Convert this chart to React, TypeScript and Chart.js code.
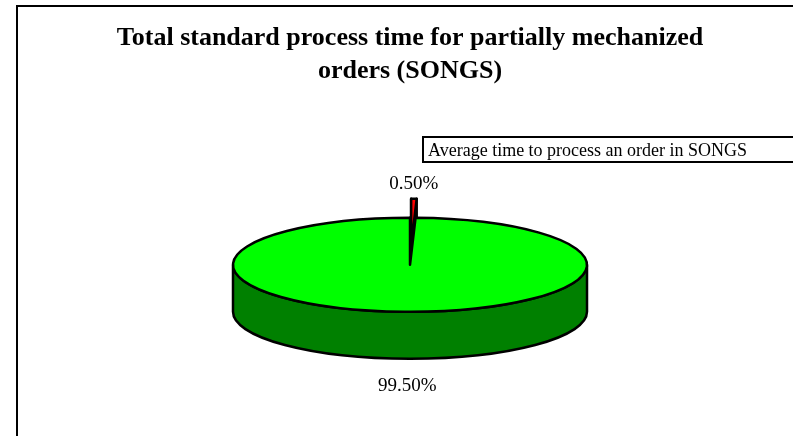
import { useEffect, useRef } from 'react';
import { Chart, registerables } from 'chart.js';

Chart.register(...registerables);

const TITLE_LINES = ['Total standard process time for partially mechanized', 'orders (SONGS)'];
const SERIES_NAME = 'Average time to process an order in SONGS';
const CATEGORIES = ['Slice 1', 'Slice 2'];
const VALUES = [0.5, 99.5];
const TOP_COLORS = ['#FF0000', '#00FF00'];
const SIDE_COLORS = ['#E00000', '#008000'];
const EXPLODE = [72, 0];

const FONT = 'Liberation Serif';
const TILT = 0.2655;
const DEPTH = 47;
const CANVAS_W = 787;
const CANVAS_H = 466;

const pie3d = {
  id: 'pie3d',
  beforeDatasetsDraw(chart: any) {
    const ctx: CanvasRenderingContext2D = chart.ctx;
    const meta = chart.getDatasetMeta(0);
    const total = VALUES.reduce((a, b) => a + b, 0);
    const arcs = meta.data.map((el: any, i: number) => {
      const p = el.getProps(['x', 'y', 'startAngle', 'endAngle', 'outerRadius'], true);
      const o = el.options;
      const mid = (p.startAngle + p.endAngle) / 2;
      const off = o.offset || 0;
      const cx = p.x + Math.cos(mid) * off;
      const cy = p.y + Math.sin(mid) * off * TILT;
      return {
        i, cx, cy, rx: p.outerRadius, ry: p.outerRadius * TILT,
        a1: p.startAngle, a2: p.endAngle, mid, o,
      };
    });
    arcs.sort((a: any, b: any) => Math.sin(a.mid) - Math.sin(b.mid));
    ctx.save();
    ctx.lineJoin = 'round';
    for (const a of arcs) {
      const bw = a.o.borderWidth || 2;
      const bc = a.o.borderColor || '#000';
      ctx.lineWidth = bw;
      ctx.strokeStyle = bc;
      const side = SIDE_COLORS[a.i];
      // radial walls
      for (const ang of [a.a1, a.a2]) {
        const ox = a.cx + a.rx * Math.cos(ang);
        const oy = a.cy + a.ry * Math.sin(ang);
        ctx.beginPath();
        ctx.moveTo(a.cx, a.cy);
        ctx.lineTo(ox, oy);
        ctx.lineTo(ox, oy + DEPTH);
        ctx.lineTo(a.cx, a.cy + DEPTH);
        ctx.closePath();
        ctx.fillStyle = side;
        ctx.fill();
        ctx.stroke();
      }
      // outer front wall
      for (let k = -1; k <= 1; k++) {
        const lo = Math.max(a.a1, 2 * Math.PI * k);
        const hi = Math.min(a.a2, Math.PI + 2 * Math.PI * k);
        if (hi > lo) {
          ctx.beginPath();
          ctx.ellipse(a.cx, a.cy, a.rx, a.ry, 0, lo, hi, false);
          ctx.lineTo(a.cx + a.rx * Math.cos(hi), a.cy + DEPTH + a.ry * Math.sin(hi));
          ctx.ellipse(a.cx, a.cy + DEPTH, a.rx, a.ry, 0, hi, lo, true);
          ctx.closePath();
          ctx.fillStyle = side;
          ctx.fill();
          ctx.stroke();
        }
      }
      // top face
      ctx.beginPath();
      ctx.moveTo(a.cx, a.cy);
      ctx.ellipse(a.cx, a.cy, a.rx, a.ry, 0, a.a1, a.a2, false);
      ctx.closePath();
      ctx.fillStyle = a.o.backgroundColor;
      ctx.fill();
      ctx.stroke();
    }
    // labels
    ctx.fillStyle = '#000';
    ctx.font = `19px "${FONT}"`;
    ctx.textAlign = 'center';
    ctx.textBaseline = 'middle';
    for (const a of arcs) {
      const px = a.cx + a.rx * Math.cos(a.mid);
      const py = a.cy + a.ry * Math.sin(a.mid);
      const below = Math.sin(a.mid) > 0;
      const ly = below ? py + DEPTH + 27 : py - 15;
      const txt = ((VALUES[a.i] / total) * 100).toFixed(2) + '%';
      ctx.fillText(txt, px, ly);
    }
    ctx.restore();
    return false;
  },
};

const legendBox = {
  id: 'legendBox',
  afterDraw(chart: any) {
    const ctx: CanvasRenderingContext2D = chart.ctx;
    ctx.save();
    ctx.lineWidth = 2;
    ctx.strokeStyle = '#000';
    ctx.fillStyle = '#fff';
    const x = 405, y = 130, w = 420, h = 25;
    ctx.fillRect(x, y, w, h);
    ctx.strokeRect(x, y, w, h);
    ctx.fillStyle = '#000';
    ctx.font = `18px "${FONT}"`;
    ctx.textAlign = 'left';
    ctx.textBaseline = 'alphabetic';
    ctx.fillText(chart.data.datasets[0].label, x + 5, y + 19);
    ctx.restore();
  },
};

export default function App() {
  const ref = useRef<HTMLCanvasElement>(null);
  useEffect(() => {
    if (!ref.current) return;
    const chart = new Chart(ref.current, {
      type: 'pie',
      data: {
        labels: CATEGORIES,
        datasets: [
          {
            label: SERIES_NAME,
            data: VALUES,
            backgroundColor: TOP_COLORS,
            borderColor: '#000',
            borderWidth: 2.5,
            offset: EXPLODE,
          },
        ],
      },
      options: {
        responsive: false,
        animation: false,
        devicePixelRatio: 1,
        events: [],
        radius: 177,
        layout: { padding: { left: 0, right: 3, top: 0, bottom: 38 } },
        plugins: {
          legend: { display: false },
          tooltip: { enabled: false },
          title: {
            display: true,
            text: TITLE_LINES,
            color: '#000',
            font: { family: FONT, size: 26, weight: 'bold', lineHeight: 1.3 },
            padding: { top: 14, bottom: 10 },
          },
        },
      } as any,
      plugins: [pie3d, legendBox],
    });
    return () => chart.destroy();
  }, []);
  return (
    <div style={{ position: 'fixed', left: 0, top: 0, width: 793, height: 436, overflow: 'hidden', background: '#fff' }}>
      <div
        style={{
          position: 'absolute', left: 16, top: 5, width: CANVAS_W + 4, height: CANVAS_H + 4,
          border: '2px solid #000', boxSizing: 'border-box', overflow: 'hidden',
        }}
      >
        <canvas ref={ref} width={CANVAS_W} height={CANVAS_H - 4} style={{ display: 'block' }} />
      </div>
    </div>
  );
}
